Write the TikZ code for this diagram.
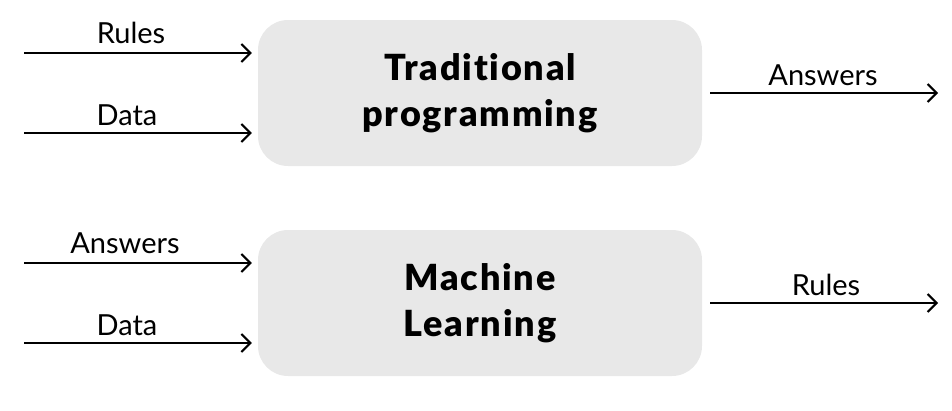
\documentclass[tikz,border=0pt]{standalone}
\usepackage{fontspec}
\setmainfont{Lato}[Ligatures=NoCommon]
\newfontfamily\heavyfont{Lato Black}[Ligatures=NoCommon,LetterSpace=5]
\usetikzlibrary{arrows.meta}
\definecolor{boxgray}{HTML}{E8E8E8}
\begin{document}
\begin{tikzpicture}[x=1pt,y=-1pt,
  procbox/.style={draw=none,fill=boxgray,rounded corners=30pt,minimum width=444pt,minimum height=146pt,inner sep=0pt,align=center,font=\fontsize{36}{46}\selectfont\heavyfont},
  flow/.style={line width=2pt,-{Straight Barb[length=9pt,width=18pt,line width=2pt]}},
  lbl/.style={anchor=base,inner sep=0pt,font=\fontsize{29}{34}\selectfont}]
\useasboundingbox (0,0) rectangle (952,410);
\node[procbox] (tp) at (480,93) {Traditional\\programming};
\node[procbox] (ml) at (480,303) {Machine\\Learning};
% left inputs
\coordinate (a1) at (24,53);
\coordinate (a2) at (24,133);
\coordinate (b1) at (24,263);
\coordinate (b2) at (24,343);
\draw[flow,shorten >=6pt] (a1) -- (tp.west |- a1);
\draw[flow,shorten >=6pt] (a2) -- (tp.west |- a2);
\draw[flow,shorten >=6pt] (b1) -- (ml.west |- b1);
\draw[flow,shorten >=6pt] (b2) -- (ml.west |- b2);
% right outputs
\coordinate (ao) at (938,93);
\coordinate (bo) at (938,303);
\draw[flow,shorten <=8pt] (tp.east) -- (ao);
\draw[flow,shorten <=8pt] (ml.east) -- (bo);
% labels
\node[lbl] (la1) at (131,43) {Rules};
\node[lbl] (la2) at (127,125) {Data};
\node[lbl] (lb1) at (125,253) {Answers};
\node[lbl] (lb2) at (127,335) {Data};
\node[lbl] (lao) at (823,85) {Answers};
\node[lbl] (lbo) at (826,295) {Rules};
\end{tikzpicture}
\end{document}
